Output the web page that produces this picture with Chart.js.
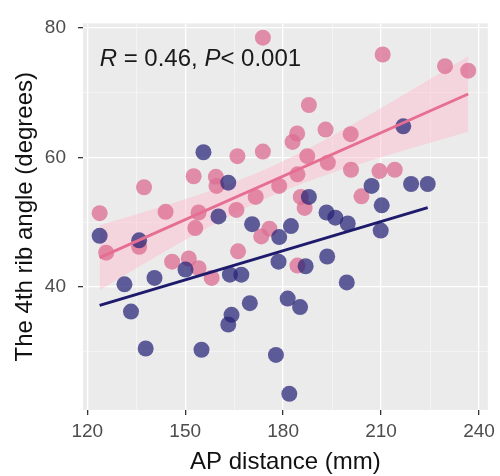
<!DOCTYPE html>
<html><head><meta charset="utf-8">
<script src="https://cdn.jsdelivr.net/npm/chart.js@4/dist/chart.umd.min.js"></script>
<style>html,body{margin:0;padding:0;background:#fff}canvas{display:block}</style>
</head><body>
<canvas id="c" width="500" height="476"></canvas>
<script>
// ---- data ----
const pinkX = [123.8,137.4,144.0,152.6,159.4,166.0,154.1,153.1,173.8,210.5,229.6,236.7,187.9,184.3,182.9,193.0,200.7,173.8,187.4,193.7,200.8,184.4,178.8,209.5,214.2,204.0,185.4,186.6,175.8,173.3,135.9,125.8,146.0,151.1,154.1,158.1,166.2,184.4,171.6,159.6,165.7];
const pinkY = [51.4,55.4,51.6,57.1,57.0,60.2,51.5,49.1,78.5,75.9,74.1,73.4,68.1,63.7,62.4,64.3,63.6,60.9,60.2,59.2,58.1,57.4,55.6,57.9,58.1,54.0,53.9,52.2,49.0,47.8,46.2,45.3,43.9,44.4,42.9,41.4,45.5,43.3,53.9,55.6,51.9];
const navyX = [155.6,163.2,123.8,135.9,131.4,140.6,133.4,137.9,155.0,164.2,163.2,169.8,181.4,185.2,177.8,181.9,178.6,167.2,163.7,186.9,193.5,199.5,150.1,216.8,207.1,219.2,224.3,210.2,187.9,193.3,196.0,170.5,182.4,199.8,209.9,178.8,160.2];
const navyY = [60.8,56.1,47.9,47.2,40.4,41.4,36.2,30.5,30.3,35.7,34.2,37.5,38.2,36.9,29.5,23.5,43.9,41.9,41.9,43.2,44.7,40.7,42.7,64.8,55.6,55.9,55.9,52.6,53.9,51.5,50.7,49.7,49.4,49.8,48.7,47.7,50.9];
const xMajorTicks = [120,150,180,210,240];
const xMinorTicks = [135,165,195,225];
const yMajorTicks = [40,60,80];
const yMinorTicks = [30,50,70];
const statParts = [['R', true], [' = 0.46, ', false], ['P', true], ['< 0.001', false]];
const xTitle = 'AP distance (mm)';
const yTitle = 'The 4th rib angle (degrees)';

// ---- linear fit (as geom_smooth(method = "lm")) ----
function fit(xs, ys) {
  const n = xs.length;
  const xbar = xs.reduce((a, b) => a + b, 0) / n;
  const ybar = ys.reduce((a, b) => a + b, 0) / n;
  let sxx = 0, sxy = 0;
  for (let i = 0; i < n; i++) { sxx += (xs[i]-xbar)**2; sxy += (xs[i]-xbar)*(ys[i]-ybar); }
  const b = sxy / sxx, a = ybar - b * xbar;
  let rss = 0;
  for (let i = 0; i < n; i++) rss += (ys[i] - a - b*xs[i])**2;
  const s = Math.sqrt(rss / (n - 2));
  return {a, b, s, n, xbar, sxx, min: Math.min(...xs), max: Math.max(...xs)};
}
const T_CRIT = 2.02;
function linePts(f) { return [f.min, f.max].map(x => ({x, y: f.a + f.b*x})); }
function bandPts(f, sign) {
  const out = [];
  const N = 60;
  for (let i = 0; i <= N; i++) {
    const x = f.min + (f.max - f.min) * i / N;
    const se = f.s * Math.sqrt(1/f.n + (x - f.xbar)**2 / f.sxx);
    out.push({x, y: f.a + f.b*x + sign * T_CRIT * se});
  }
  return out;
}
const fp = fit(pinkX, pinkY), fn = fit(navyX, navyY);
const toPts = (xs, ys) => xs.map((x, i) => ({x, y: ys[i]}));

const panelBg = {
  id: 'panelBg',
  beforeDraw(chart) {
    const {ctx, chartArea: a} = chart;
    ctx.save(); ctx.fillStyle = '#EBEBEB';
    ctx.fillRect(a.left, a.top, a.right - a.left, a.bottom - a.top);
    ctx.restore();
  }
};
const statText = {
  id: 'statText',
  afterDraw(chart) {
    const {ctx} = chart;
    const px = chart.scales.x.getPixelForValue(123.8);
    const py = chart.scales.y.getPixelForValue(75.2);
    ctx.save();
    ctx.fillStyle = '#1a1a1a'; ctx.textBaseline = 'middle'; ctx.textAlign = 'left';
    let x = px;
    for (const [t, it] of statParts) {
      ctx.font = (it ? 'italic ' : '') + '24px "Liberation Sans", Arial, sans-serif';
      ctx.fillText(t, x, py);
      x += ctx.measureText(t).width;
    }
    ctx.restore();
  }
};

function gridOpts(major) {
  return {
    color: c => major.includes(c.tick && c.tick.value) ? '#FFFFFF' : 'rgba(255,255,255,0.75)',
    lineWidth: c => major.includes(c.tick && c.tick.value) ? 1.3 : 0.6,
    tickColor: c => major.includes(c.tick && c.tick.value) ? '#333333' : 'rgba(0,0,0,0)',
    tickLength: 5, drawTicks: true
  };
}
const tickFont = {family: '"Liberation Sans", Arial, sans-serif', size: 19};
const titleFont = {family: '"Liberation Sans", Arial, sans-serif', size: 24, lineHeight: 1};

new Chart(document.getElementById('c'), {
  type: 'scatter',
  data: {
    datasets: [
      {type: 'line', data: linePts(fp), borderColor: '#E66E90', borderWidth: 2.8, pointRadius: 0, order: 0, fill: false},
      {type: 'line', data: linePts(fn), borderColor: '#1E1A6C', borderWidth: 3, pointRadius: 0, order: 0, fill: false},
      {data: toPts(pinkX, pinkY), backgroundColor: 'rgba(220,112,148,0.78)', borderWidth: 0, pointRadius: 8, order: 2},
      {data: toPts(navyX, navyY), backgroundColor: 'rgba(38,34,118,0.72)', borderWidth: 0, pointRadius: 8, order: 1},
      {type: 'line', data: bandPts(fp, -1), borderWidth: 0, pointRadius: 0, order: 3, fill: false, borderColor: 'rgba(0,0,0,0)'},
      {type: 'line', data: bandPts(fp, 1), borderWidth: 0, pointRadius: 0, order: 3, fill: '-1', borderColor: 'rgba(0,0,0,0)', backgroundColor: 'rgba(255,185,205,0.45)'}
    ]
  },
  options: {
    responsive: false, animation: false, devicePixelRatio: 1, events: [],
    layout: {padding: {top: 10, right: 8, left: 0, bottom: 0}},
    plugins: {legend: {display: false}, tooltip: {enabled: false}},
    scales: {
      x: {
        type: 'linear', min: 118.7, max: 242.7,
        afterBuildTicks: s => { s.ticks = [...xMajorTicks, ...xMinorTicks].sort((a,b)=>a-b).map(v => ({value: v})); },
        afterFit: s => { s.height = 66; },
        grid: gridOpts(xMajorTicks), border: {display: false},
        ticks: {autoSkip: false, maxRotation: 0, color: '#4D4D4D', font: tickFont, padding: 5,
                callback: v => xMajorTicks.includes(v) ? String(v) : ''},
        title: {display: true, text: xTitle, color: '#111', font: titleFont, padding: {top: 0, bottom: 2}}
      },
      y: {
        type: 'linear', min: 21.0, max: 80.7,
        afterBuildTicks: s => { s.ticks = [...yMajorTicks, ...yMinorTicks].sort((a,b)=>a-b).map(v => ({value: v})); },
        afterFit: s => { s.width = 83; },
        grid: gridOpts(yMajorTicks), border: {display: false},
        ticks: {autoSkip: false, color: '#4D4D4D', font: tickFont, padding: 12,
                callback: v => yMajorTicks.includes(v) ? String(v) : ''},
        title: {display: true, text: yTitle, color: '#111', font: titleFont, padding: {top: 13, bottom: 0}}
      }
    }
  },
  plugins: [panelBg, statText]
});
</script>
</body></html>
